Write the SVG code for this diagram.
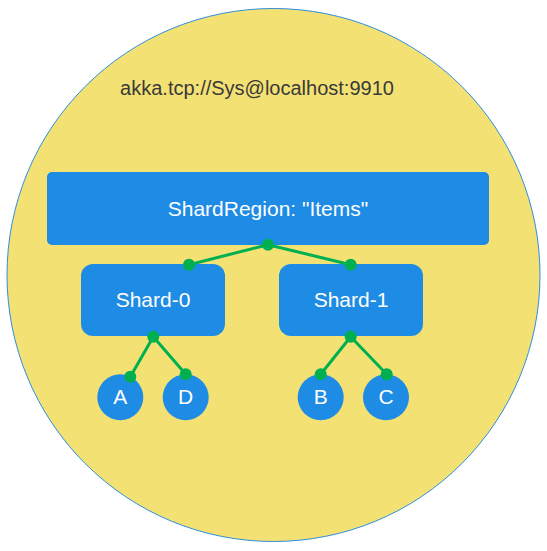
<svg xmlns="http://www.w3.org/2000/svg" width="547" height="551" viewBox="0 0 547 551">
<style>
.box{fill:#1E8BE5}
.lbl{font-family:"Liberation Sans",Arial,sans-serif;fill:#fff;text-anchor:middle;font-size:21px}
.edge{stroke:#00B050;stroke-width:3;fill:none}
.dot{fill:#00B050}
</style>
<g id="system">
<circle cx="273.5" cy="275" r="266.5" fill="#F3E174" stroke="#2D8FE0" stroke-width="1"/>
<text x="257" y="95" font-family="'Liberation Sans',Arial,sans-serif" font-size="20" fill="#3a3a3a" text-anchor="middle">akka.tcp://Sys@localhost:9910</text>
</g>
<g id="shardregion">
<rect class="box" x="47" y="172" width="442" height="73" rx="5"/>
<text class="lbl" x="268" y="216">ShardRegion: "Items"</text>
</g>
<g id="shard0">
<rect class="box" x="81" y="264" width="144" height="72" rx="12"/>
<text class="lbl" x="153" y="307">Shard-0</text>
</g>
<g id="shard1">
<rect class="box" x="279" y="264" width="144" height="72" rx="12"/>
<text class="lbl" x="351" y="307">Shard-1</text>
</g>
<g id="entityA"><circle class="box" cx="120.3" cy="397.3" r="23"/><text class="lbl" x="120.3" y="404">A</text></g>
<g id="entityD"><circle class="box" cx="185.7" cy="397.3" r="23"/><text class="lbl" x="185.7" y="404">D</text></g>
<g id="entityB"><circle class="box" cx="320.7" cy="397.3" r="23"/><text class="lbl" x="320.7" y="404">B</text></g>
<g id="entityC"><circle class="box" cx="386" cy="397.3" r="23"/><text class="lbl" x="386" y="404">C</text></g>
<g id="connectors">
<path class="edge" d="M268 244.7 L189 264.7 M268 244.7 L350.7 264.7 M153.3 336.7 L130.3 376.7 M153.3 336.7 L185.7 374.3 M350.7 336.7 L320.7 374.3 M350.7 336.7 L386.7 374.3"/>
<circle class="dot" cx="268" cy="244.7" r="6"/>
<circle class="dot" cx="189" cy="264.7" r="6"/>
<circle class="dot" cx="350.7" cy="264.7" r="6"/>
<circle class="dot" cx="153.3" cy="336.7" r="6"/>
<circle class="dot" cx="130.3" cy="376.7" r="6"/>
<circle class="dot" cx="185.7" cy="374.3" r="6"/>
<circle class="dot" cx="350.7" cy="336.7" r="6"/>
<circle class="dot" cx="320.7" cy="374.3" r="6"/>
<circle class="dot" cx="386.7" cy="374.3" r="6"/>
</g>
</svg>
